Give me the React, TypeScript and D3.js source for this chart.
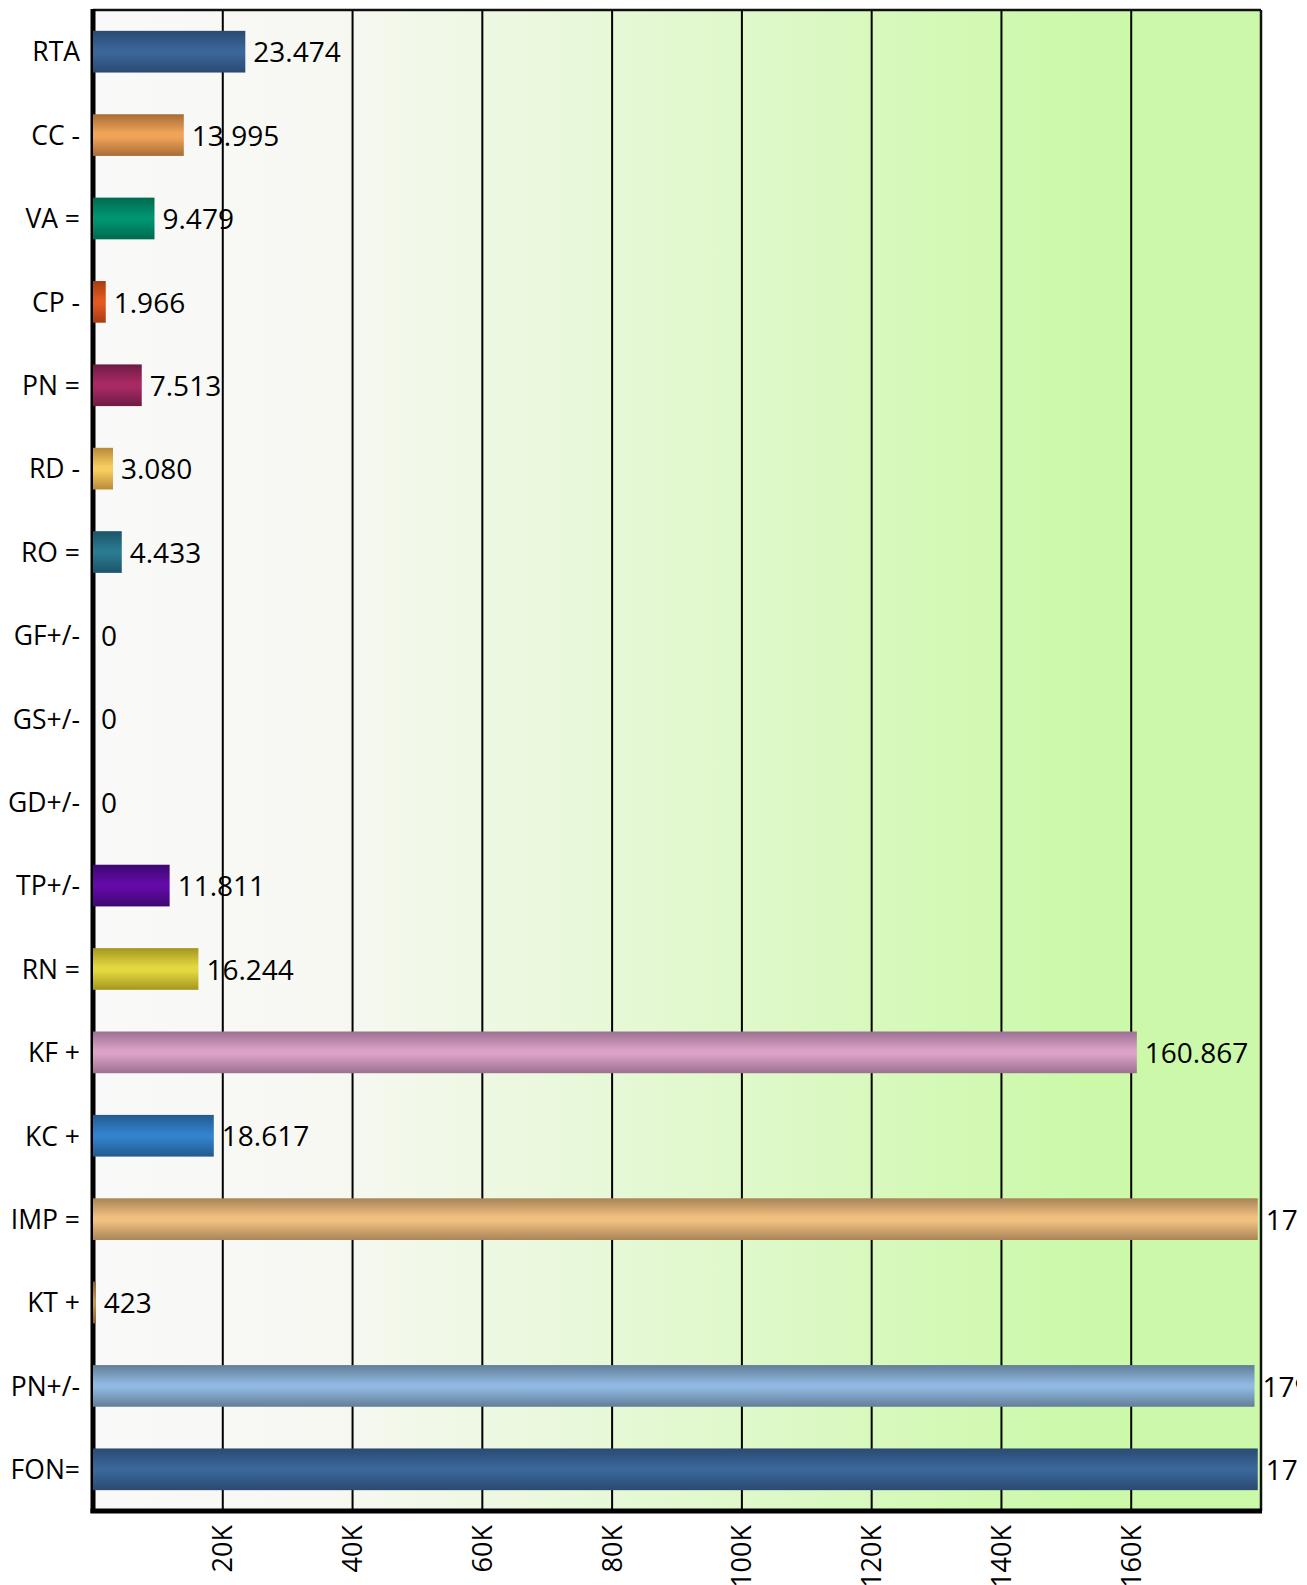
import React from "react";
import * as d3 from "d3";

const categories = ["RTA", "CC -", "VA =", "CP -", "PN =", "RD -", "RO =", "GF+/-", "GS+/-", "GD+/-", "TP+/-", "RN =", "KF +", "KC +", "IMP =", "KT +", "PN+/-", "FON="];
const values = [23474, 13995, 9479, 1966, 7513, 3080, 4433, 0, 0, 0, 11811, 16244, 160867, 18617, 179500, 423, 179000, 179500];
const valueLabels = ["23.474", "13.995", "9.479", "1.966", "7.513", "3.080", "4.433", "0", "0", "0", "11.811", "16.244", "160.867", "18.617", "179.500", "423", "179.000", "179.500"];
const edgeColors = ["#2a4a72", "#a96c36", "#006a4f", "#a83c12", "#6e1b44", "#b88a38", "#1c5468", "#888", "#888", "#888", "#3c0870", "#a4961f", "#9b7090", "#235a8e", "#a88458", "#8a6028", "#627e98", "#2a4a72"];
const midColors = ["#3a6699", "#f0a458", "#009470", "#e05a20", "#a82a64", "#f8cc60", "#2a7a90", "#aaa", "#aaa", "#aaa", "#640aa8", "#e4d840", "#dca2c8", "#3282cc", "#f0c080", "#c89850", "#90b8e0", "#3a6699"];
const xTicks = [20000, 40000, 60000, 80000, 100000, 120000, 140000, 160000];
const xTickLabels = ["20K", "40K", "60K", "80K", "100K", "120K", "140K", "160K"];

export default function App() {
  const W = 1307, H = 1585;
  const left = 93, right = 1261, top = 10, bottom = 1511;
  const x = d3.scaleLinear().domain([0, 180000]).range([left, right]);
  const y = d3.scaleBand<string>().domain(categories).range([top, bottom]).paddingInner(0.5).paddingOuter(0.25);
  const font = "'Open Sans', sans-serif";
  return (
    <svg width={W} height={H} style={{ position: "absolute", left: 0, top: 0 }} fontFamily={font}>
      <defs>
        <linearGradient id="bg" x1="0" x2="1" y1="0" y2="0">
          <stop offset="0" stopColor="#f9f9f9" />
          <stop offset="0.2" stopColor="#f7f8f2" />
          <stop offset="0.85" stopColor="#cbf9a9" />
          <stop offset="1" stopColor="#cbf9a9" />
        </linearGradient>
        {categories.map((c, i) => (
          <linearGradient key={c} id={`g${i}`} x1="0" x2="0" y1="0" y2="1">
            <stop offset="0" stopColor={edgeColors[i]} />
            <stop offset="0.45" stopColor={midColors[i]} />
            <stop offset="0.55" stopColor={midColors[i]} />
            <stop offset="1" stopColor={edgeColors[i]} />
          </linearGradient>
        ))}
        <clipPath id="clip">
          <rect x={0} y={0} width={1297} height={H} />
        </clipPath>
      </defs>
      <rect x={left} y={top} width={right - left} height={bottom - top} fill="url(#bg)" />
      {xTicks.map((t) => (
        <line key={t} x1={x(t)} x2={x(t)} y1={top} y2={bottom} stroke="#000" strokeWidth={2} />
      ))}
      <line x1={left} x2={right} y1={top} y2={top} stroke="#111" strokeWidth={2.5} />
      <line x1={right} x2={right} y1={top} y2={bottom} stroke="#111" strokeWidth={2.5} />
      <line x1={left} x2={left} y1={top - 1} y2={bottom + 2} stroke="#000" strokeWidth={5} />
      {categories.map((c, i) => {
        const by = y(c)!;
        const bh = y.bandwidth();
        return (
          <g key={c}>
            {values[i] > 0 && (
              <rect x={x(0)} y={by} width={Math.max(x(values[i]) - x(0), 2.5)} height={bh} fill={`url(#g${i})`} />
            )}
            <text x={80} y={by + bh / 2} dy="0.37em" textAnchor="end" fontSize={26.5} fill="#000">{c}</text>
          </g>
        );
      })}
      <line x1={left - 2.5} x2={right + 1} y1={bottom} y2={bottom} stroke="#000" strokeWidth={5} />
      <g clipPath="url(#clip)">
        {categories.map((c, i) => {
          const by = y(c)!;
          const bh = y.bandwidth();
          return (
            <text key={c} x={x(values[i]) + 8} y={by + bh / 2} dy="0.38em" fontSize={28} fill="#000">{valueLabels[i]}</text>
          );
        })}
      </g>
      {xTicks.map((t, i) => (
        <text key={t} transform={`translate(${x(t)},${1525}) rotate(-90)`} textAnchor="end" dy="0.35em" fontSize={27} fill="#000">{xTickLabels[i]}</text>
      ))}
    </svg>
  );
}
